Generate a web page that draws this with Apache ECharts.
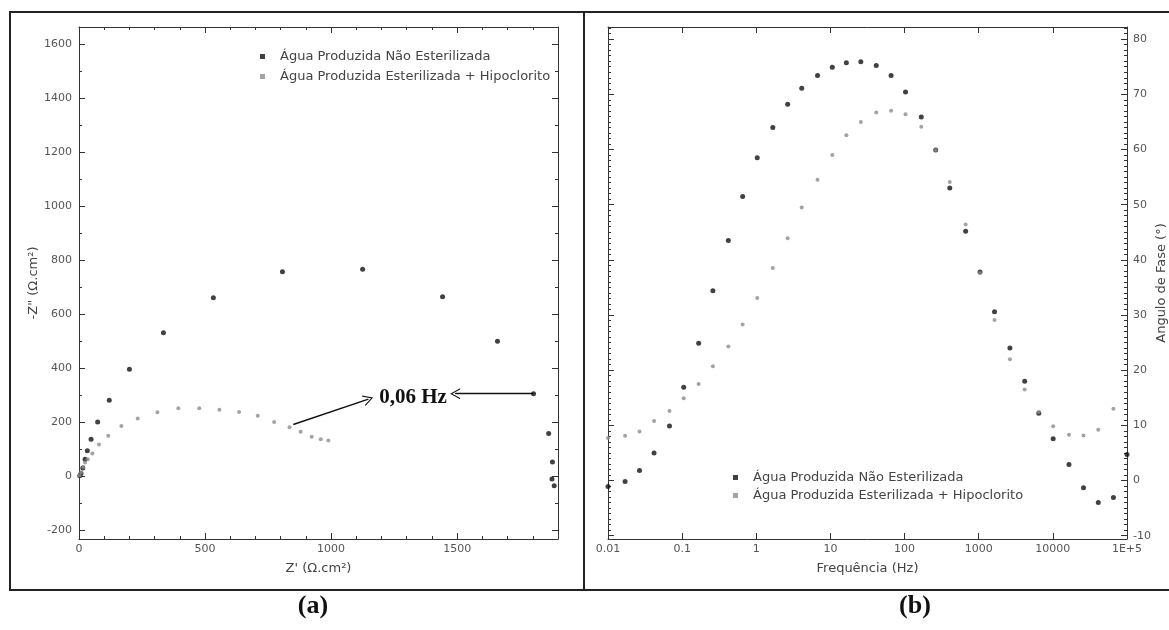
<!DOCTYPE html>
<html><head><meta charset="utf-8">
<script src="https://cdn.jsdelivr.net/npm/echarts@6/dist/echarts.min.js"></script>
<style>html,body{margin:0;padding:0;background:#fff}#c{width:1169px;height:630px}</style>
</head><body><div id="c"></div>
<script>
// ---------- data ----------
const seriesNames = ['Água Produzida Não Esterilizada', 'Água Produzida Esterilizada + Hipoclorito'];

// Nyquist (a): Z' and -Z''
const nyqBlackRe = [3, 8, 15, 24, 33, 48, 74, 120, 200, 335, 533, 807, 1125, 1442, 1660, 1803, 1863, 1878, 1876, 1885];
const nyqBlackIm = [1, 10, 30, 62, 94, 136, 200, 281, 396, 531, 660, 757, 766, 664, 499, 305, 158, 52, -11, -36];
const nyqGrayRe = [3, 8, 17, 24, 35, 53, 79, 116, 168, 233, 311, 394, 477, 557, 635, 709, 774, 835, 879, 923, 959, 989];
const nyqGrayIm = [2, 14, 34, 50, 62, 84, 117, 149, 185, 213, 236, 251, 251, 246, 237, 223, 200, 181, 164, 146, 136, 132];

// Bode phase (b)
const freqHz = [0.01, 0.017, 0.0266, 0.0418, 0.0675, 0.105, 0.167, 0.26, 0.42, 0.655, 1.03, 1.67, 2.65, 4.1, 6.7, 10.6, 16.4, 25.7, 41.5, 65.8, 103, 168, 263, 407, 666, 1042, 1634, 2637, 4170, 6460, 10100, 16500, 25900, 41000, 65600, 100000];
const phaseBlack = [-1.1, -0.2, 1.8, 5.0, 9.9, 16.9, 24.9, 34.4, 43.5, 51.5, 58.5, 64.0, 68.2, 71.1, 73.4, 74.9, 75.7, 75.9, 75.2, 73.4, 70.4, 65.9, 59.9, 53.0, 45.2, 37.8, 30.6, 24.0, 18.0, 12.2, 7.55, 2.9, -1.3, -4.0, -3.1, 4.7];
const phaseGray = [7.7, 8.1, 8.9, 10.8, 12.6, 14.9, 17.5, 20.7, 24.3, 28.3, 33.1, 38.5, 43.9, 49.5, 54.5, 59.0, 62.6, 65.0, 66.7, 67.0, 66.4, 64.1, 59.9, 54.1, 46.4, 37.6, 29.1, 22.0, 16.5, 12.4, 9.85, 8.3, 8.15, 9.2, 13.0];

// tick labels
const zTicksX = [0, 500, 1000, 1500];
const zMinorX = [100, 200, 300, 400, 600, 700, 800, 900, 1100, 1200, 1300, 1400, 1600, 1700, 1800];
const zTicksY = [-200, 0, 200, 400, 600, 800, 1000, 1200, 1400, 1600];
const zMinorY = [-100, 100, 300, 500, 700, 900, 1100, 1300, 1500];
const freqTickLabels = ['0.01', '0.1', '1', '10', '100', '1000', '10000', '1E+5'];
const phaseTicks = [-10, 0, 10, 20, 30, 40, 50, 60, 70, 80];
const phaseMinor = [];
for (let v = -10; v <= 82; v++) if (v % 10 !== 0) phaseMinor.push(v);

const annotationText = '0,06 Hz';

// ---------- helpers ----------
const FONT = 'DejaVu Sans';
const AX = '#333';
const zip = (a, b) => a.map((v, i) => [v, b[i]]);
const plain = v => String(Math.round(v));

function vAxis(o) {
  const major = !o.minor;
  return {
    gridIndex: o.grid, type: o.type || 'value', position: o.pos,
    min: o.min, max: o.max,
    name: o.name || '', nameLocation: 'middle', nameGap: o.nameGap || 20,
    nameTextStyle: { fontFamily: FONT, fontSize: 13, color: '#444' },
    axisLine: { show: major, onZero: false, lineStyle: { color: AX, width: 1 } },
    axisTick: Object.assign({ show: true, inside: true, length: major ? 6 : 3, lineStyle: { color: AX, width: 1 } },
      o.ticks ? { customValues: o.ticks } : {}),
    minorTick: { show: false },
    axisLabel: Object.assign({ show: !!o.labels, margin: o.margin || 6, fontFamily: FONT, fontSize: 11, color: '#555',
      formatter: o.formatter || plain }, o.labels && o.ticks ? { customValues: o.ticks } : {}),
    splitLine: { show: false }
  };
}

const zMin = 0, zMax = 1900, zyMin = -233, zyMax = 1663;
const pMin = -10.6, pMax = 82.2;
const fMin = 0.01, fMax = 100000;
const fmtFreq = v => freqTickLabels[Math.round(Math.log10(v)) + 2] || '';

const option = {
  animation: false,
  backgroundColor: '#fff',
  grid: [
    { left: 79, top: 27, width: 479, height: 512 },
    { left: 608, top: 27, width: 519, height: 512 }
  ],
  xAxis: [
    vAxis({ grid: 0, pos: 'bottom', min: zMin, max: zMax, ticks: zTicksX, labels: true, name: "Z' (Ω.cm²)", nameGap: 23, margin: 5 }),
    vAxis({ grid: 0, pos: 'bottom', min: zMin, max: zMax, ticks: zMinorX, minor: true }),
    vAxis({ grid: 0, pos: 'top', min: zMin, max: zMax, ticks: zTicksX }),
    vAxis({ grid: 0, pos: 'top', min: zMin, max: zMax, ticks: zMinorX, minor: true }),
    vAxis({ grid: 1, pos: 'bottom', type: 'log', min: fMin, max: fMax, labels: true, formatter: fmtFreq, name: 'Frequência (Hz)', nameGap: 23, margin: 5 }),
    vAxis({ grid: 1, pos: 'top', type: 'log', min: fMin, max: fMax })
  ],
  yAxis: [
    vAxis({ grid: 0, pos: 'left', min: zyMin, max: zyMax, ticks: zTicksY, labels: true, name: '-Z" (Ω.cm²)', nameGap: 38, margin: 7 }),
    vAxis({ grid: 0, pos: 'left', min: zyMin, max: zyMax, ticks: zMinorY, minor: true }),
    vAxis({ grid: 0, pos: 'right', min: zyMin, max: zyMax, ticks: zTicksY }),
    vAxis({ grid: 0, pos: 'right', min: zyMin, max: zyMax, ticks: zMinorY, minor: true }),
    vAxis({ grid: 1, pos: 'left', min: pMin, max: pMax, ticks: phaseTicks }),
    vAxis({ grid: 1, pos: 'left', min: pMin, max: pMax, ticks: phaseMinor, minor: true }),
    vAxis({ grid: 1, pos: 'right', min: pMin, max: pMax, ticks: phaseTicks, labels: true, name: 'Angulo de Fase (°)', nameGap: 24, margin: 6 }),
    vAxis({ grid: 1, pos: 'right', min: pMin, max: pMax, ticks: phaseMinor, minor: true })
  ],
  legend: [
    { data: seriesNames, left: 255, top: 45, orient: 'vertical', icon: 'rect', itemWidth: 5, itemHeight: 5, itemGap: 7,
      selectedMode: false, textStyle: { fontFamily: FONT, fontSize: 13, color: '#444', padding: [0, 0, 0, 10] } },
    { data: seriesNames, left: 728, top: 466, orient: 'vertical', icon: 'rect', itemWidth: 5, itemHeight: 5, itemGap: 5,
      selectedMode: false, textStyle: { fontFamily: FONT, fontSize: 13, color: '#444', padding: [0, 0, 0, 10] } }
  ],
  series: [
    { type: 'scatter', name: seriesNames[0], xAxisIndex: 0, yAxisIndex: 0, data: zip(nyqBlackRe, nyqBlackIm),
      symbolSize: 5, itemStyle: { color: '#111' }, z: 3,
      markPoint: { symbol: 'circle', symbolSize: 0, silent: true,
        label: { show: true, position: 'inside', formatter: annotationText, fontFamily: 'Liberation Serif', fontWeight: 'bold', fontSize: 21, color: '#111' },
        data: [{ coord: [1325, 289] }] } },
    { type: 'scatter', name: seriesNames[1], xAxisIndex: 0, yAxisIndex: 0, data: zip(nyqGrayRe, nyqGrayIm),
      symbolSize: 4, itemStyle: { color: '#8c8c8c' }, z: 4,
      markLine: { silent: true, symbol: ['none', 'path://M0,12 L6,0 L12,12 L10.6,12 L6,2.6 L1.4,12 Z'], symbolSize: [11, 10],
        lineStyle: { color: '#111', width: 1.4, type: 'solid' }, label: { show: false },
        data: [
          [{ coord: [850, 191] }, { coord: [1148, 285] }],
          [{ coord: [1803, 305] }, { coord: [1492, 305] }]
        ] } },
    { type: 'scatter', name: seriesNames[0], xAxisIndex: 4, yAxisIndex: 6, data: zip(freqHz, phaseBlack),
      symbolSize: 5, itemStyle: { color: '#111' }, z: 3 },
    { type: 'scatter', name: seriesNames[1], xAxisIndex: 4, yAxisIndex: 6, data: zip(freqHz.slice(0, phaseGray.length), phaseGray),
      symbolSize: 4, itemStyle: { color: '#8c8c8c' }, z: 4 }
  ],
  graphic: [
    { type: 'rect', shape: { x: 10, y: 12, width: 1170, height: 578 }, style: { fill: 'none', stroke: '#222', lineWidth: 2 }, silent: true },
    { type: 'line', shape: { x1: 584, y1: 12, x2: 584, y2: 590 }, style: { stroke: '#222', lineWidth: 2 }, silent: true },
    { type: 'text', x: 313, y: 606, style: { text: '(a)', fontFamily: 'Liberation Serif', fontWeight: 'bold', fontSize: 26, fill: '#111', textAlign: 'center', textVerticalAlign: 'middle' } },
    { type: 'text', x: 915, y: 606, style: { text: '(b)', fontFamily: 'Liberation Serif', fontWeight: 'bold', fontSize: 26, fill: '#111', textAlign: 'center', textVerticalAlign: 'middle' } }
  ]
};

const chart = echarts.init(document.getElementById('c'), null, { renderer: 'canvas' });
chart.setOption(option);
</script>
</body></html>
